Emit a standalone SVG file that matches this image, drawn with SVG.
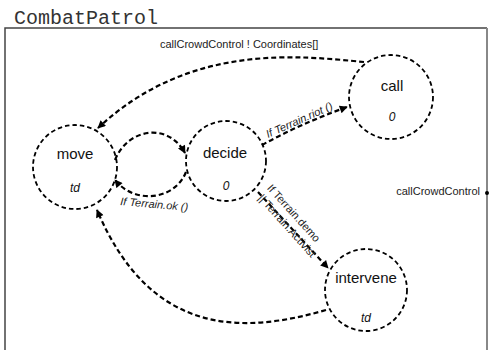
<svg xmlns="http://www.w3.org/2000/svg" width="490" height="350" viewBox="0 0 490 350">
<style>
.st{fill:none;stroke:#000;stroke-width:1.8;stroke-dasharray:4.5 3}
.cn{fill:none;stroke:#000;stroke-width:2.2;stroke-dasharray:5 3}
.nm{font-family:"Liberation Sans",Arial,sans-serif;font-size:15px;fill:#111;text-anchor:middle}
.sub{font-family:"Liberation Sans",Arial,sans-serif;font-size:12px;font-style:italic;fill:#111;text-anchor:middle}
.lb{font-family:"Liberation Sans",Arial,sans-serif;font-size:11px;fill:#222}
.it{font-style:italic}
</style>
<defs>
<marker id="arr" viewBox="0 0 10 10" refX="9" refY="5" markerWidth="9" markerHeight="8" markerUnits="userSpaceOnUse" orient="auto"><path d="M0,0 L10,5 L0,10 z" fill="#000"/></marker>
</defs>
<rect width="490" height="350" fill="#fff"/>
<g id="frame">
<text x="14" y="24" font-family="Liberation Mono,'Courier New',monospace" font-size="20" fill="#333">CombatPatrol</text>
<path d="M5,360 L5,28 L487,28" fill="none" stroke="#444" stroke-width="1.5"/>
<line x1="487" y1="28" x2="487" y2="360" stroke="#888" stroke-width="2"/>
<circle cx="487" cy="193" r="2" fill="#000"/>
<text class="lb" x="480" y="195" text-anchor="end">callCrowdControl</text>
</g>
<g id="move">
<circle class="st" cx="75" cy="167" r="42"/>
<text class="nm" x="75" y="159">move</text>
<text class="sub" x="75" y="192">td</text>
</g>
<g id="decide">
<circle class="st" cx="226" cy="161" r="40"/>
<text class="nm" x="225" y="158">decide</text>
<text class="sub" x="226" y="190">0</text>
</g>
<g id="call">
<circle class="st" cx="391" cy="97" r="42"/>
<text class="nm" x="392" y="91">call</text>
<text class="sub" x="392" y="121">0</text>
</g>
<g id="intervene">
<circle class="st" cx="366" cy="290" r="41"/>
<text class="nm" x="366" y="283">intervene</text>
<text class="sub" x="366" y="322">td</text>
</g>
<g id="connectors">
<path class="cn" d="M364,62 C300,56 190,42 98,128" marker-end="url(#arr)"/>
<text class="lb" x="160" y="48">callCrowdControl ! Coordinates[]</text>
<path class="cn" d="M115,160 C128,128 168,122 185,153" marker-end="url(#arr)"/>
<path class="cn" d="M186,172 C175,200 135,205 115,180" marker-end="url(#arr)"/>
<text class="lb it" transform="translate(120,205) rotate(5)">If Terrain.ok ()</text>
<path class="cn" d="M262,145 Q300,124 347,107" marker-end="url(#arr)"/>
<text class="lb it" transform="translate(268,138) rotate(-24)">If Terrain.riot ()</text>
<path class="cn" d="M258,192 L328,268" marker-end="url(#arr)"/>
<text class="lb" transform="translate(266.5,188.5) rotate(48)">If Terrain.demo</text>
<text class="lb" transform="translate(257.5,198.5) rotate(48)">|| Terrain.Activist</text>
<path class="cn" d="M326,310 C240,335 150,335 97,210" marker-end="url(#arr)"/>
</g>
</svg>
